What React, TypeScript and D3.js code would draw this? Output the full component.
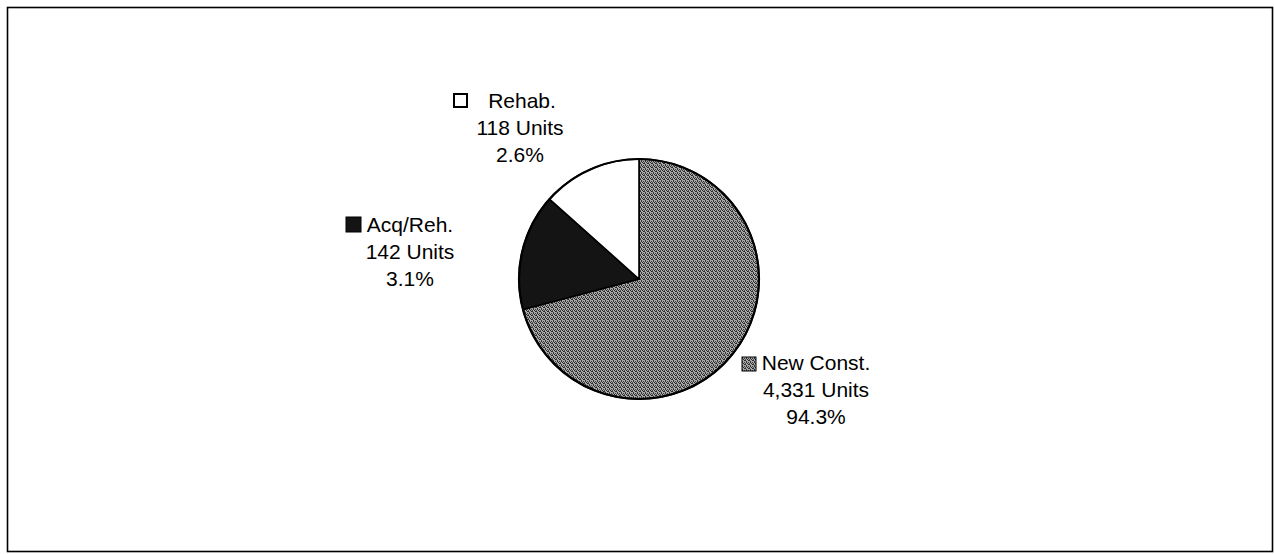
import React, { useEffect, useRef } from "react";
import * as d3 from "d3";

// Housing units by activity type
const CATEGORIES = ["New Const.", "Acq/Reh.", "Rehab."];
const UNITS = ["4,331", "142", "118"];
const PERCENTS = ["94.3%", "3.1%", "2.6%"];
// slice sizes as printed in the source (the drawn wedges don't follow the % labels)
const SLICE_SHARES = [0.709, 0.157, 0.134];

const FILLS = ["url(#newConstTexture)", "#141414", "#ffffff"];

const W = 1274;
const H = 554;

export default function App() {
  const svgRef = useRef<SVGSVGElement | null>(null);

  useEffect(() => {
    const svg = d3.select(svgRef.current);
    svg.selectAll("*").remove();

    const font = "'Liberation Sans', Arial, sans-serif";

    // texture for the new construction slice
    const defs = svg.append("defs");
    const pat = defs.append("pattern")
      .attr("id", "newConstTexture")
      .attr("width", 4).attr("height", 4)
      .attr("patternUnits", "userSpaceOnUse");
    pat.append("rect").attr("width", 4).attr("height", 4).attr("fill", "#a8a8a8");
    pat.append("rect").attr("x", 0).attr("y", 0).attr("width", 2).attr("height", 1).attr("fill", "#2a2a2a");
    pat.append("rect").attr("x", 2).attr("y", 1).attr("width", 1).attr("height", 2).attr("fill", "#333");
    pat.append("rect").attr("x", 0).attr("y", 2).attr("width", 1).attr("height", 1).attr("fill", "#3a3a3a");
    pat.append("rect").attr("x", 3).attr("y", 3).attr("width", 1).attr("height", 1).attr("fill", "#2a2a2a");
    pat.append("rect").attr("x", 1).attr("y", 3).attr("width", 1).attr("height", 1).attr("fill", "#555");

    // outer frame
    svg.append("rect")
      .attr("x", 7.5).attr("y", 7.5)
      .attr("width", 1265).attr("height", 544)
      .attr("fill", "none")
      .attr("stroke", "#000").attr("stroke-width", 1.6);

    const cx = 639, cy = 279, r = 120;

    const pie = d3.pie<number>().sort(null).value(d => d);
    const arcs = pie(SLICE_SHARES);
    const arc = d3.arc<d3.PieArcDatum<number>>().innerRadius(0).outerRadius(r);

    const g = svg.append("g").attr("transform", `translate(${cx},${cy})`);
    g.selectAll("path")
      .data(arcs)
      .join("path")
      .attr("d", arc)
      .attr("fill", (d, i) => FILLS[i])
      .attr("stroke", "#000")
      .attr("stroke-width", 1.6)
      .attr("stroke-linejoin", "round");

    g.append("circle")
      .attr("r", r)
      .attr("fill", "none")
      .attr("stroke", "#000")
      .attr("stroke-width", 2.2);

    // data labels, positioned as in the source
    const labelPos = [
      { x: 816, y: 370, mx: 742, my: 357, ms: 14 },
      { x: 410, y: 232, mx: 346, my: 217, ms: 15 },
      { x: 520, y: 108, mx: 454, my: 94, ms: 13 },
    ];
    const lineH = 27;

    CATEGORIES.forEach((cat, i) => {
      const p = labelPos[i];
      const lbl = svg.append("g");
      const lines = [cat, `${UNITS[i]} Units`, PERCENTS[i]];
      lines.forEach((t, j) => {
        lbl.append("text")
          .attr("x", i === 2 && j === 0 ? p.x + 2 : p.x)
          .attr("y", p.y + j * lineH)
          .attr("text-anchor", "middle")
          .attr("fill", "#000")
          .style("font-family", font)
          .style("font-size", "21px")
          .text(t);
      });
      lbl.append("rect")
        .attr("x", p.mx).attr("y", p.my)
        .attr("width", p.ms).attr("height", p.ms)
        .attr("fill", FILLS[i])
        .attr("stroke", "#000")
        .attr("stroke-width", i === 2 ? 2 : 1);
    });
  }, []);

  return (
    <div style={{ position: "fixed", left: 0, top: 0, width: W, height: H, background: "#fff" }}>
      <svg ref={svgRef} width={W} height={H} viewBox={`0 0 ${W} ${H}`} />
    </div>
  );
}
